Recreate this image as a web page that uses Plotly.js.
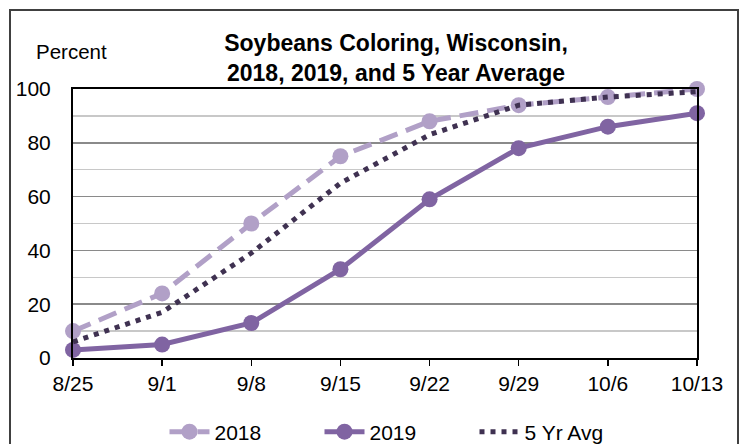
<!DOCTYPE html>
<html><head><meta charset="utf-8">
<script src="https://cdn.plot.ly/plotly-3.0.1.min.js"></script>
<style>html,body{margin:0;padding:0;background:#fff}#c{width:750px;height:444px}</style>
</head><body><div id="c"></div>
<script>
const weeks = ["8/25","9/1","9/8","9/15","9/22","9/29","10/6","10/13"];
const y2018 = [10,24,50,75,88,94,97,100];
const y2019 = [3,5,13,33,59,78,86,91];
const avg5 = [6,17,39,65,83,94,97,99];
const yTicks = [0,20,40,60,80,100];

const traces = [
  {x:weeks,y:y2018,name:"2018",type:"scatter",mode:"lines+markers",cliponaxis:false,
   line:{color:"#b1a0c7",width:5,dash:"19px,9px"},marker:{color:"#b1a0c7",size:16}},
  {x:weeks,y:y2019,name:"2019",type:"scatter",mode:"lines+markers",cliponaxis:false,
   line:{color:"#8064a2",width:5},marker:{color:"#8064a2",size:16}},
  {x:weeks,y:avg5,name:"5 Yr Avg",type:"scatter",mode:"lines",cliponaxis:false,
   line:{color:"#3f3151",width:5,dash:"5px,6px"}}
];
const layout = {
  width:750,height:444,
  margin:{l:73,r:53,t:89,b:86,autoexpand:false},
  paper_bgcolor:"#fff",plot_bgcolor:"#fff",
  font:{family:"Liberation Sans, Arial, sans-serif",size:21,color:"#000"},
  title:{text:"<b>Soybeans Coloring, Wisconsin,<br>2018, 2019, and 5 Year Average</b>",
    font:{size:23,color:"#000"},x:396/750,xanchor:"center",yref:"container",y:1-51/444,yanchor:"top"},
  xaxis:{type:"category",range:[0,7],showline:true,linecolor:"#000",linewidth:2,mirror:true,
    ticks:"outside",ticklen:6,tickcolor:"#000",tickwidth:1.5,showgrid:false,
    tickfont:{size:21},ticklabelstandoff:0,fixedrange:true},
  yaxis:{range:[0,100],tickvals:yTicks,showline:true,linecolor:"#000",linewidth:2,mirror:true,
    ticks:"",gridcolor:"#8a8a8a",gridwidth:1.5,zeroline:false,ticklabelstandoff:16,
    minor:{dtick:10,showgrid:true,gridcolor:"#c8c8c8",gridwidth:1.5},tickfont:{size:21}},
  showlegend:true,
  legend:{orientation:"h",x:0.5+12/624,xanchor:"center",yref:"container",y:(444-432)/444,yanchor:"middle",
    font:{size:21},entrywidth:100,itemwidth:40},
  annotations:[{text:"Percent",xref:"paper",yref:"paper",x:(71-73)/624,y:(358-52)/269,
    xanchor:"center",yanchor:"middle",showarrow:false,font:{size:20.5}}],
  shapes:[{type:"rect",xref:"paper",yref:"paper",x0:(10-73)/624,x1:(738-73)/624,
    y0:(358-460)/269,y1:(358-10)/269,line:{color:"#404040",width:2}}]
};
Plotly.newPlot("c",traces,layout,{displayModeBar:false,staticPlot:true});
</script></body></html>
